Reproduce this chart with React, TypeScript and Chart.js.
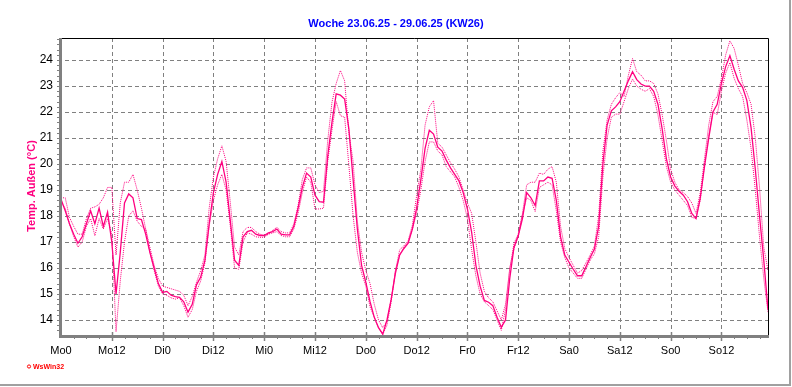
import { useEffect, useRef } from 'react';
import { Chart, registerables } from 'chart.js';

Chart.register(...registerables);

const TITLE = 'Woche 23.06.25 - 29.06.25 (KW26)';
const Y_TITLE = 'Temp. Außen (°C)';
const LOGO = 'WsWin32';
const DAY_NAMES = ['Mo', 'Di', 'Mi', 'Do', 'Fr', 'Sa', 'So'];
const Y_TICKS = [14, 15, 16, 17, 18, 19, 20, 21, 22, 23, 24];
const Y_MIN = 13.42;
const Y_MAX = 24.85;
const X_MAX = 167; // hours since Mo 0:00

// hourly values, hour 0 = Mo 0:00
const TEMP_AVG = [
  18.65, 18.2, 17.7, 17.3, 16.95, 17.2, 17.7, 18.2, 17.7, 18.3, 17.6, 18.15,
  17.0, 15.0, 16.6, 18.5, 18.85, 18.7, 17.9, 17.86, 17.3, 16.6, 16.0, 15.4,
  15.06, 15.1, 14.95, 14.9, 14.87, 14.7, 14.3, 14.6, 15.35, 15.65, 16.3, 17.7,
  18.9, 19.6, 20.1, 19.3, 17.8, 16.3, 16.1, 17.2, 17.4, 17.45, 17.3, 17.25,
  17.25, 17.35, 17.4, 17.5, 17.3, 17.27, 17.27, 17.6, 18.3, 19.1, 19.65, 19.5,
  18.8, 18.55, 18.53, 20.3, 21.6, 22.7, 22.65, 22.5, 21.35, 19.4, 17.5, 16.1,
  15.45, 14.7, 14.1, 13.7, 13.45, 14.0, 14.8, 15.8, 16.5, 16.75, 16.95, 17.5,
  18.3, 19.4, 20.6, 21.3, 21.15, 20.65, 20.5, 20.15, 19.85, 19.6, 19.35, 18.9,
  18.27, 17.37, 16.1, 15.3, 14.75, 14.68, 14.55, 14.1, 13.72, 14.0, 15.6, 16.8,
  17.24, 17.9, 18.9, 18.7, 18.4, 19.35, 19.35, 19.5, 19.45, 18.6, 17.2, 16.5,
  16.22, 15.95, 15.7, 15.7, 16.05, 16.4, 16.73, 17.6, 20.0, 21.5, 22.05, 22.2,
  22.4, 22.8, 23.2, 23.55, 23.25, 23.08, 23.0, 23.0, 22.8, 22.3, 21.35, 20.2,
  19.5, 19.15, 18.95, 18.8, 18.55, 18.1, 17.9, 18.7, 19.9, 21.0, 22.0, 22.3,
  23.1, 23.75, 24.17, 23.65, 23.2, 22.95, 22.45, 21.4, 19.8, 18.0, 16.3, 14.4,
];

const TEMP_MAX = [
  18.7, 18.7, 17.95, 17.6, 17.3, 17.3, 17.9, 18.3, 18.35, 18.45, 18.7, 19.1,
  19.1, 16.5, 18.5, 19.3, 19.3, 19.6, 19.0, 18.3, 17.5, 16.8, 16.1, 15.6,
  15.3, 15.25, 15.2, 15.15, 15.1, 14.95, 14.55, 14.9, 15.45, 15.9, 16.5, 18.3,
  19.5, 20.2, 20.7, 20.1, 18.5, 16.8, 16.5, 17.4, 17.56, 17.56, 17.4, 17.3,
  17.25, 17.3, 17.45, 17.56, 17.4, 17.35, 17.35, 17.7, 18.4, 19.4, 19.85, 19.85,
  19.2, 18.9, 18.95, 20.9, 22.37, 23.1, 23.6, 23.2, 21.2, 20.1, 17.8, 16.6,
  15.9, 15.4, 14.6, 14.0, 13.7, 13.95, 14.8, 15.9, 16.7, 16.85, 17.05, 17.65,
  18.78, 19.8, 21.5, 22.2, 22.44, 20.8, 20.65, 20.35, 20.05, 19.8, 19.5, 19.0,
  18.5, 18.1, 17.0, 15.8, 15.1, 14.85, 14.7, 14.35, 14.0, 14.6, 15.95, 16.95,
  17.3, 18.1, 19.2, 19.3, 19.3, 19.65, 19.6, 19.8, 19.9, 19.3, 17.6, 16.75,
  16.4, 16.1, 15.8, 15.9, 16.2, 16.5, 16.85, 18.0, 20.5, 21.7, 22.3, 22.55,
  22.75, 22.6, 23.4, 24.06, 23.55, 23.42, 23.2, 23.2, 23.1, 22.7, 21.9, 20.9,
  19.8, 19.3, 19.0, 18.9, 18.75, 18.5, 18.1, 18.9, 20.2, 21.5, 22.4, 22.6,
  23.3, 24.2, 24.74, 24.45, 23.8, 23.1, 22.75, 22.3, 21.0, 19.1, 16.8, 15.9,
];

const TEMP_MIN = [
  18.5, 18.3, 17.7, 17.2, 16.8, 17.0, 17.6, 17.9, 17.24, 17.9, 17.5, 17.9,
  17.3, 13.55, 15.5, 17.0, 18.0, 18.2, 17.8, 17.6, 17.5, 16.6, 15.9, 15.3,
  15.0, 14.95, 14.85, 14.8, 14.85, 14.55, 14.1, 14.4, 15.1, 15.5, 16.2, 17.6,
  18.6, 19.2, 19.6, 19.0, 17.6, 16.0, 15.95, 17.0, 17.35, 17.3, 17.2, 17.18,
  17.18, 17.3, 17.35, 17.4, 17.25, 17.2, 17.2, 17.5, 18.1, 18.9, 19.5, 19.3,
  18.27, 18.27, 18.3, 20.1, 21.3, 22.4, 21.86, 21.8, 19.95, 18.0, 16.6, 15.8,
  15.3, 14.5, 14.1, 13.7, 13.44, 13.8, 14.7, 15.9, 16.5, 16.8, 17.0, 17.5,
  18.1, 19.0, 20.1, 20.85, 20.85, 20.5, 20.35, 19.9, 19.7, 19.5, 19.1, 18.6,
  17.9, 16.7, 15.7, 15.0, 14.7, 14.55, 14.4, 14.0, 13.6, 14.4, 16.0, 16.75,
  17.2, 18.05, 18.7, 18.6, 18.17, 19.1, 19.2, 19.3, 19.2, 18.2, 17.0, 16.4,
  16.0, 15.8, 15.6, 15.6, 15.95, 16.3, 16.55, 17.2, 19.5, 21.0, 21.8, 21.92,
  21.92, 22.4, 22.9, 23.27, 23.0, 22.88, 22.8, 22.9, 22.6, 21.9, 20.9, 19.9,
  19.3, 19.0, 18.8, 18.6, 18.4, 17.95, 17.9, 18.6, 20.0, 21.1, 22.0, 21.9,
  22.8, 23.5, 23.9, 23.3, 22.9, 22.6, 21.7, 20.6, 19.0, 17.2, 15.6, 14.3,
];

const LINE_COLOR = '#ff0080';
const GRID_COLOR = '#808080';
const FONT = '"Liberation Sans", Arial, sans-serif';

const toPoints = (arr: number[]) => arr.map((v, i) => ({ x: i, y: v }));

const framePlugin = {
  id: 'frame',
  beforeDraw(chart: any) {
    const { ctx, width, height } = chart;
    ctx.save();
    ctx.fillStyle = '#ffffff';
    ctx.fillRect(0, 0, width, height);
    // outer gray frame (right and bottom)
    ctx.strokeStyle = '#a0a0a0';
    ctx.lineWidth = 2;
    ctx.beginPath();
    ctx.moveTo(790, 0);
    ctx.lineTo(790, 385);
    ctx.lineTo(0, 385);
    ctx.stroke();
    // title
    ctx.fillStyle = '#0000ff';
    ctx.font = `bold 11px ${FONT}`;
    ctx.textAlign = 'center';
    ctx.textBaseline = 'middle';
    ctx.fillText(TITLE, 396, 24);
    // y title
    ctx.save();
    ctx.translate(32, 186);
    ctx.rotate(-Math.PI / 2);
    ctx.fillStyle = LINE_COLOR;
    ctx.font = `bold 11px ${FONT}`;
    ctx.fillText(Y_TITLE, 0, 0);
    ctx.restore();
    // logo
    ctx.fillStyle = '#ff0000';
    ctx.strokeStyle = '#ff0000';
    ctx.lineWidth = 1;
    ctx.beginPath();
    ctx.arc(29, 366.5, 1.6, 0, Math.PI * 2);
    ctx.stroke();
    ctx.font = `bold 7px ${FONT}`;
    ctx.textAlign = 'left';
    ctx.fillText(LOGO, 33, 367);
    ctx.restore();
  },
  beforeDatasetsDraw(chart: any) {
    const { ctx, chartArea, scales } = chart;
    const { left, right, top, bottom } = chartArea;
    const xs = scales.x;
    const ys = scales.y;
    ctx.save();
    ctx.strokeStyle = GRID_COLOR;
    ctx.lineWidth = 1;
    ctx.setLineDash([4, 3]);
    for (const t of Y_TICKS) {
      const y = Math.round(ys.getPixelForValue(t)) + 0.5;
      ctx.beginPath();
      ctx.moveTo(left - 3, y);
      ctx.lineTo(right, y);
      ctx.stroke();
    }
    for (let h = 12; h < X_MAX; h += 12) {
      const x = Math.round(xs.getPixelForValue(h)) + 0.5;
      ctx.beginPath();
      ctx.moveTo(x, top);
      ctx.lineTo(x, bottom);
      ctx.stroke();
    }
    ctx.restore();
  },
  afterDatasetsDraw(chart: any) {
    const { ctx, chartArea, scales } = chart;
    const { left, right, top, bottom } = chartArea;
    const xs = scales.x;
    const ys = scales.y;
    ctx.save();
    ctx.setLineDash([]);
    // top/right black border
    ctx.strokeStyle = '#000000';
    ctx.lineWidth = 1;
    ctx.beginPath();
    ctx.moveTo(left, top + 0.5);
    ctx.lineTo(right + 0.5, top + 0.5);
    ctx.lineTo(right + 0.5, bottom);
    ctx.stroke();
    // gray axes
    ctx.strokeStyle = GRID_COLOR;
    ctx.lineWidth = 3;
    ctx.beginPath();
    ctx.moveTo(left - 0.5, top);
    ctx.lineTo(left - 0.5, bottom + 1.5);
    ctx.lineTo(right + 1, bottom + 1.5);
    ctx.stroke();
    // y minor ticks
    ctx.lineWidth = 1;
    for (let i = 0; ; i++) {
      const v = 13.6 + i * 0.2;
      if (v > Y_MAX) break;
      const y = Math.round(ys.getPixelForValue(v)) + 0.5;
      ctx.beginPath();
      ctx.moveTo(left - 4, y);
      ctx.lineTo(left - 1, y);
      ctx.stroke();
    }
    // x ticks
    for (let h = 3; h <= X_MAX; h += 3) {
      const x = Math.round(xs.getPixelForValue(h)) + 0.5;
      const major = h % 12 === 0;
      ctx.lineWidth = major ? 1.5 : 1;
      ctx.beginPath();
      ctx.moveTo(x, bottom + (major ? -3 : 0));
      ctx.lineTo(x, bottom + (major ? 6 : 4));
      ctx.stroke();
    }
    ctx.restore();
  },
};

export default function App() {
  const ref = useRef<HTMLCanvasElement | null>(null);
  useEffect(() => {
    if (!ref.current) return;
    const chart = new Chart(ref.current, {
      type: 'line',
      data: {
        datasets: [
          {
            label: 'Max',
            data: toPoints(TEMP_MAX),
            borderColor: LINE_COLOR,
            borderWidth: 1,
            borderDash: [1, 1],
            pointRadius: 0,
            tension: 0,
          },
          {
            label: 'Min',
            data: toPoints(TEMP_MIN),
            borderColor: LINE_COLOR,
            borderWidth: 1,
            borderDash: [1, 1],
            pointRadius: 0,
            tension: 0,
          },
          {
            label: 'Temp',
            data: toPoints(TEMP_AVG),
            borderColor: LINE_COLOR,
            borderWidth: 1.3,
            pointRadius: 0,
            tension: 0,
          },
        ],
      },
      plugins: [framePlugin],
      options: {
        responsive: false,
        animation: false,
        devicePixelRatio: 1,
        layout: { padding: { left: 0, top: 38, right: 24, bottom: 0 } },
        plugins: { legend: { display: false }, tooltip: { enabled: false }, title: { display: false } },
        scales: {
          x: {
            type: 'linear',
            min: 0,
            max: X_MAX,
            grid: { display: false, drawTicks: false },
            border: { display: false },
            afterFit: (s: any) => { s.height = 52; },
            ticks: {
              stepSize: 12,
              includeBounds: false,
              autoSkip: false,
              maxRotation: 0,
              padding: 9,
              color: '#000000',
              font: { family: FONT, size: 11 },
              callback: (v: any) => {
                const h = Number(v);
                return DAY_NAMES[Math.floor(h / 24)] + String(h % 24);
              },
            },
          },
          y: {
            type: 'linear',
            min: Y_MIN,
            max: Y_MAX,
            grid: { display: false, drawTicks: false },
            border: { display: false },
            afterFit: (s: any) => { s.width = 61; },
            ticks: {
              stepSize: 1,
              includeBounds: false,
              padding: 8,
              color: '#000000',
              font: { family: FONT, size: 12 },
              callback: (v: any) => String(Math.round(Number(v))),
            },
          },
        },
      },
    } as any);
    return () => chart.destroy();
  }, []);
  return (
    <div style={{ position: 'absolute', left: 0, top: 0, width: 792, height: 387, background: '#fff' }}>
      <canvas ref={ref} width={792} height={387} style={{ display: 'block', width: 792, height: 387 }} />
    </div>
  );
}
